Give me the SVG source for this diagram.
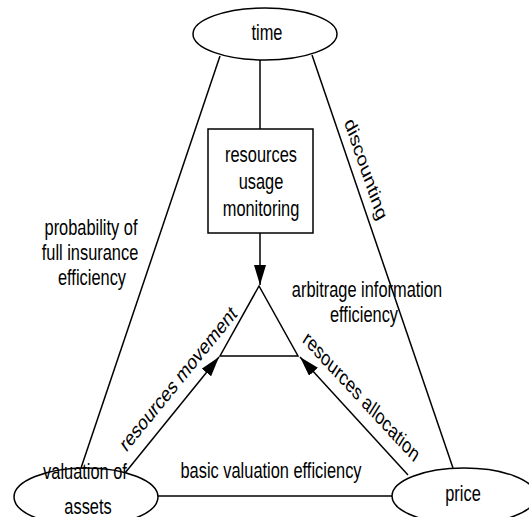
<svg xmlns="http://www.w3.org/2000/svg" width="529" height="517" viewBox="0 0 529 517">
<style>
.s{fill:#fff;stroke:#000;stroke-width:1.5}
.c{fill:none;stroke:#000;stroke-width:1.5}
text{font-family:"Liberation Sans",Arial,sans-serif;font-size:21.5px;fill:#000;text-anchor:middle}
</style>
<defs>
<marker id="ah" viewBox="0 0 20 12" refX="20" refY="6" markerWidth="20" markerHeight="12" markerUnits="userSpaceOnUse" orient="auto">
<path d="M0,0 L20,6 L0,12 z" fill="#000"/>
</marker>
</defs>
<rect width="529" height="517" fill="#fff"/>
<g id="connectors">
<line class="c" x1="220" y1="56" x2="81" y2="468"/>
<line class="c" x1="312" y1="55" x2="453" y2="468"/>
<line class="c" x1="260" y1="60" x2="260" y2="129"/>
<line class="c" x1="260" y1="233" x2="260" y2="285" marker-end="url(#ah)"/>
<line class="c" x1="125" y1="473" x2="219" y2="357" marker-end="url(#ah)"/>
<line class="c" x1="408" y1="475" x2="300" y2="357" marker-end="url(#ah)"/>
<line class="c" x1="158" y1="496" x2="392" y2="496"/>
<g>
<text transform="translate(91,235) scale(0.763,1)">probability of</text>
<text transform="translate(90,260) scale(0.763,1)">full insurance</text>
<text transform="translate(92,285) scale(0.763,1)">efficiency</text>
</g>
<text transform="translate(361,172) scale(0.763,1) rotate(65.9)">discounting</text>
<g>
<text transform="translate(367,297) scale(0.763,1)">arbitrage information</text>
<text transform="translate(364,322) scale(0.763,1)">efficiency</text>
</g>
<text transform="translate(182,384) scale(0.763,1) rotate(-43.2)">resources movement</text>
<text transform="translate(358,402) scale(0.763,1) rotate(39.5)">resources allocation</text>
<text transform="translate(271,478) scale(0.763,1)">basic valuation efficiency</text>
</g>
<g id="time">
<ellipse class="s" cx="265" cy="34" rx="72" ry="26"/>
<text transform="translate(267,40) scale(0.763,1)">time</text>
</g>
<g id="monitoring">
<rect class="s" x="208" y="129" width="105" height="104"/>
<text transform="translate(261,162) scale(0.763,1)">resources</text>
<text transform="translate(261,189) scale(0.763,1)">usage</text>
<text transform="translate(261,216) scale(0.763,1)">monitoring</text>
</g>
<g id="center">
<path class="c" d="M259,286 L220,356 L298,356 Z"/>
</g>
<g id="valuation">
<ellipse class="s" cx="86" cy="497" rx="72" ry="29"/>
<text transform="translate(85,479) scale(0.763,1)">valuation of</text>
<text transform="translate(88,514) scale(0.763,1)">assets</text>
</g>
<g id="price">
<ellipse class="s" cx="464" cy="496" rx="72" ry="28"/>
<text transform="translate(463,501) scale(0.763,1)">price</text>
</g>
</svg>
